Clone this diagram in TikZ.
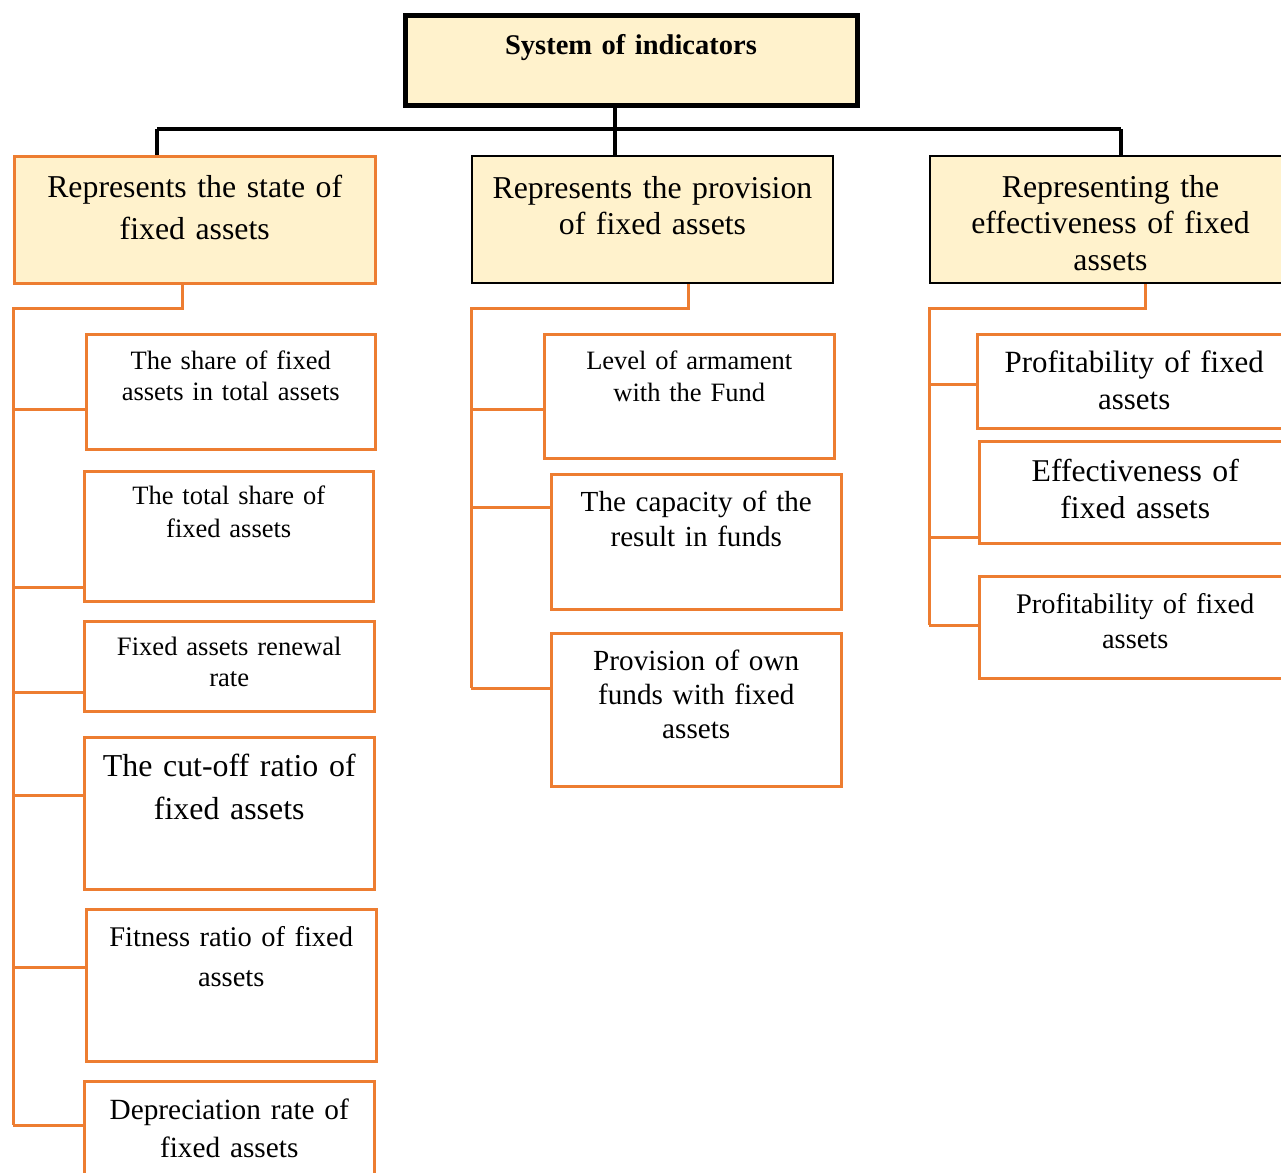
\documentclass[tikz,border=0pt]{standalone}
\usepackage{fontspec}
\setmainfont{Liberation Serif}
\usetikzlibrary{calc}

\definecolor{boxfill}{HTML}{FFF2CC}
\definecolor{assetorange}{HTML}{ED7D31}
\newcommand{\boxfont}[2]{\fontsize{#1pt}{#2pt}\selectfont}
\tikzset{
  cell/.style={inner sep=0pt, anchor=north west, align=center},
  headbox/.style={cell, draw=black, line width=5pt, fill=boxfill},
  groupbox/.style={cell, draw=black, line width=2pt, fill=boxfill},
  itembox/.style={cell, draw=assetorange, line width=2.5pt, fill=white},
  topline/.style={draw=black, line width=3.5pt},
  branch/.style={draw=assetorange, line width=3pt},
}

\begin{document}
\begin{tikzpicture}[x=1pt,y=-1pt]
      \useasboundingbox (0,0) rectangle (1281,1172);
      \clip (0,0) rectangle (1281,1172);
      % top box and the three groups
      \node[headbox, text width=452pt, text height=38.5pt, text depth=50.5pt,
        font=\boxfont{28.5}{34}\bfseries] (title) at (402.5,13.5) {System of indicators};
      \node[groupbox, draw=assetorange, line width=2.5pt, text width=361pt, text height=41pt,
        text depth=86pt, font=\boxfont{31.8}{42}] (state) at (13,155)
        {Represents the state of\\fixed assets};
      \node[groupbox, text width=361pt, text height=42pt, text depth=85pt,
        font=\boxfont{31.8}{36}] (provision) at (471,155)
        {Represents the provision\\of fixed assets};
      \node[groupbox, text width=361pt, text height=41pt, text depth=86pt,
        font=\boxfont{31.8}{36.5}] (effect) at (929,155)
        {Representing the\\effectiveness of fixed\\assets};
      % state of fixed assets
      \node[itembox, text width=289pt, text height=35pt, text depth=80pt,
        font=\boxfont{26.5}{31.5}] (share) at (85,333) {The share of fixed\\assets in total assets};
      \node[itembox, text width=289pt, text height=33.5pt, text depth=96.5pt,
        font=\boxfont{26.5}{33}] (total) at (83,470) {The total share of\\fixed assets};
      \node[itembox, text width=290pt, text height=34pt, text depth=56pt,
        font=\boxfont{26.6}{31.7}] (renewal) at (83,620) {Fixed assets renewal\\rate};
      \node[itembox, text width=290pt, text height=39pt, text depth=113pt,
        font=\boxfont{31.9}{43}] (cutoff) at (83,736) {The cut-off ratio of\\fixed assets};
      \node[itembox, text width=290pt, text height=37pt, text depth=115pt,
        font=\boxfont{28.5}{40}] (fitness) at (85,908) {Fitness ratio of fixed\\assets};
      \node[itembox, text width=290pt, text height=38pt, text depth=82pt,
        font=\boxfont{29.3}{38}] (deprec) at (83,1080) {Depreciation rate of\\fixed assets};
      % provision of fixed assets
      \node[itembox, text width=290pt, text height=35pt, text depth=89pt,
        font=\boxfont{26.5}{32}] (armament) at (543,333) {Level of armament\\with the Fund};
      \node[itembox, text width=290pt, text height=37pt, text depth=98pt,
        font=\boxfont{29.1}{35}] (capacity) at (550,473) {The capacity of the\\result in funds};
      \node[itembox, text width=290pt, text height=37pt, text depth=116pt,
        font=\boxfont{29.2}{34}] (ownfunds) at (550,632) {Provision of own\\funds with fixed\\assets};
      % effectiveness of fixed assets
      \node[itembox, text width=314pt, text height=38pt, text depth=56pt,
        font=\boxfont{30.9}{37}] (profitA) at (976,333) {Profitability of fixed\\assets};
      \node[itembox, text width=312pt, text height=40pt, text depth=62pt,
        font=\boxfont{31.7}{37}] (effective) at (978,440) {Effectiveness of\\fixed assets};
      \node[itembox, text width=312pt, text height=37pt, text depth=65pt,
        font=\boxfont{28.4}{35}] (profitB) at (978,575) {Profitability of fixed\\assets};

      % black tree on top
      \coordinate (hub) at (615,129);
      \coordinate (busL) at (157,129);
      \coordinate (busR) at (1121,129);
      \draw[topline] (title.south -| hub) -- (hub) -- (provision.north -| hub);
      \draw[topline, line width=4.5pt] (busL) -- (busR);
      \draw[topline] (busL) -- (state.north -| busL);
      \draw[topline] (busR) -- (effect.north -| busR);

      % orange buses
      \draw[branch] (state.south -| 182,0) -- (182,308) -- (state.west |- 0,308) -- (state.west |- 0,1125);
      \foreach \n/\y in {share/409,total/587,renewal/692,cutoff/795,fitness/967,deprec/1125}
      \draw[branch] (state.west |- 0,\y) -- (\n.west |- 0,\y);
      \draw[branch] (provision.south -| 688,0) -- (688,308) -- (provision.west |- 0,308) -- (provision.west |- 0,688);
      \foreach \n/\y in {armament/409,capacity/507,ownfunds/688}
      \draw[branch] (provision.west |- 0,\y) -- (\n.west |- 0,\y);
      \draw[branch] (effect.south -| 1145,0) -- (1145,308) -- (effect.west |- 0,308) -- (effect.west |- 0,625);
      \foreach \n/\y in {profitA/384,effective/537,profitB/625}
      \draw[branch] (effect.west |- 0,\y) -- (\n.west |- 0,\y);
    \end{tikzpicture}
\end{document}
